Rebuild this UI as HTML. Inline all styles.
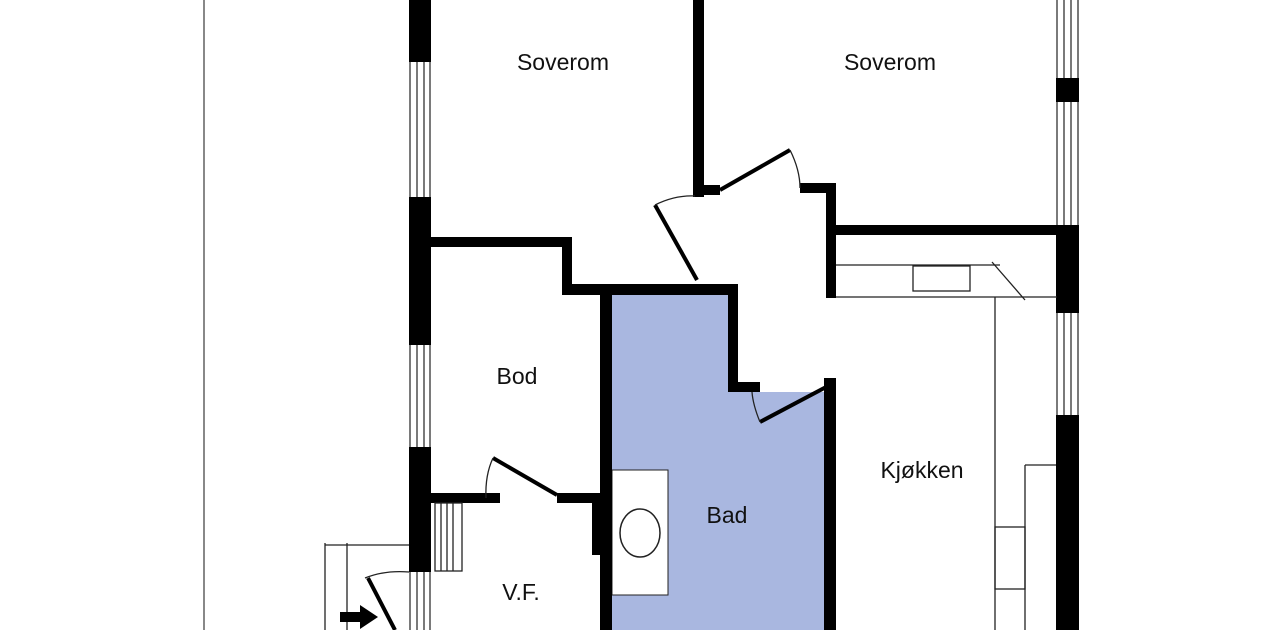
<!DOCTYPE html>
<html><head><style>body{margin:0;background:#fff}svg{display:block}text{font-family:"Liberation Sans",sans-serif;font-size:23px;fill:#111;text-anchor:middle}</style></head>
<body>
<svg width="1280" height="630" viewBox="0 0 1280 630" xmlns="http://www.w3.org/2000/svg">
<rect width="1280" height="630" fill="#fff"/>
<line x1="204" y1="0" x2="204" y2="630" stroke="#888" stroke-width="2"/>
<!-- bathroom fill -->
<path d="M612 295 H728 V392 H824 V630 H612 Z" fill="#a9b7e0"/>
<rect x="612" y="470" width="56" height="125" fill="#fff" stroke="#222" stroke-width="1"/>
<ellipse cx="640" cy="533" rx="20" ry="24" fill="none" stroke="#222" stroke-width="1.5"/>
<!-- left window wall -->
<g stroke="#333" stroke-width="1.3">
<line x1="410" y1="0" x2="410" y2="630"/><line x1="417" y1="0" x2="417" y2="630"/><line x1="424" y1="0" x2="424" y2="630"/><line x1="430" y1="0" x2="430" y2="630"/>
<line x1="1057" y1="0" x2="1057" y2="630"/><line x1="1064" y1="0" x2="1064" y2="630"/><line x1="1071" y1="0" x2="1071" y2="630"/><line x1="1078" y1="0" x2="1078" y2="630"/>
</g>
<g fill="#000">
<rect x="409" y="0" width="22" height="62"/><rect x="409" y="197" width="22" height="148"/><rect x="409" y="447" width="22" height="125"/>
<rect x="1056" y="78" width="23" height="24"/><rect x="1056" y="225" width="23" height="88"/><rect x="1056" y="415" width="23" height="215"/>
<rect x="693" y="0" width="11" height="197"/><rect x="693" y="185" width="27" height="10"/>
<rect x="800" y="183" width="36" height="10"/><rect x="826" y="183" width="10" height="115"/>
<rect x="836" y="225" width="222" height="10"/>
<rect x="430" y="237" width="142" height="10"/><rect x="562" y="237" width="10" height="58"/>
<rect x="562" y="284" width="176" height="11"/>
<rect x="600" y="284" width="12" height="346"/>
<rect x="728" y="284" width="10" height="108"/><rect x="728" y="382" width="32" height="10"/>
<rect x="824" y="378" width="12" height="252"/>
<rect x="430" y="493" width="70" height="10"/><rect x="557" y="493" width="45" height="10"/><rect x="592" y="493" width="11" height="62"/>
</g>
<g stroke="#000" stroke-width="4"><line x1="720" y1="190" x2="790" y2="150"/><line x1="655" y1="205" x2="697" y2="280"/><line x1="760" y1="422" x2="828" y2="386"/><line x1="493" y1="458" x2="557" y2="495"/><line x1="368" y1="578" x2="395" y2="630"/></g>
<g stroke="#222" stroke-width="1.3" fill="none">
<path d="M790 150 Q800 170 800 188"/><path d="M655 205 Q675 195 695 196"/><path d="M760 422 Q753 405 752 392"/><path d="M493 458 Q485 475 486 498"/><path d="M365 578 Q385 570 409 572"/>
<line x1="836" y1="265" x2="1000" y2="265"/><line x1="836" y1="297" x2="1057" y2="297"/><line x1="995" y1="297" x2="995" y2="630"/>
<line x1="992" y1="262" x2="1025" y2="300"/><rect x="913" y="266" width="57" height="25"/>
<line x1="1025" y1="465" x2="1025" y2="630"/><line x1="1025" y1="465" x2="1056" y2="465"/>
<rect x="995" y="527" width="30" height="62"/>
<line x1="325" y1="543" x2="325" y2="630"/><line x1="347" y1="543" x2="347" y2="630"/><line x1="325" y1="545" x2="409" y2="545"/>
<rect x="435" y="503" width="27" height="68"/>
<line x1="441" y1="503" x2="441" y2="571"/><line x1="447" y1="503" x2="447" y2="571"/><line x1="453" y1="503" x2="453" y2="571"/>
</g>
<path d="M340 612 H360 V605 L378 617 L360 629 V622 H340 Z" fill="#000"/>
<text x="563" y="70">Soverom</text>
<text x="890" y="70">Soverom</text>
<text x="517" y="384">Bod</text>
<text x="727" y="523">Bad</text>
<text x="922" y="478">Kjøkken</text>
<text x="521" y="600">V.F.</text>
</svg>
</body></html>
